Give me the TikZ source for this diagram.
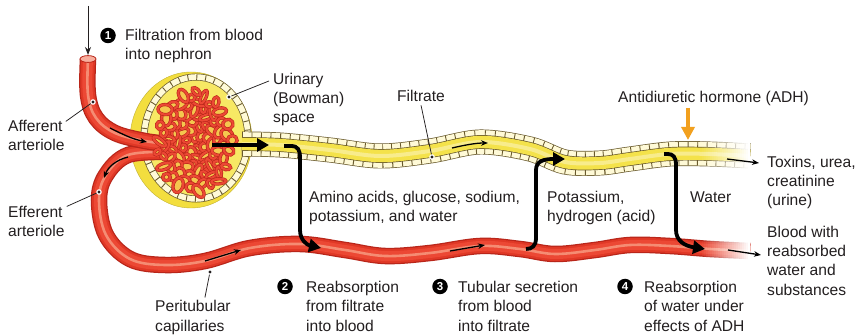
\documentclass[tikz,border=0pt]{standalone}
\usepackage{fontspec}
\setmainfont{Liberation Sans}
\usetikzlibrary{arrows.meta}

\definecolor{ink}{RGB}{35,31,32}
\definecolor{redDark}{RGB}{185,38,26}
\definecolor{redMid}{RGB}{224,56,38}
\definecolor{redMain}{RGB}{236,72,52}
\definecolor{redLight}{RGB}{245,140,115}
\definecolor{holeCol}{RGB}{245,198,78}
\definecolor{capYellow}{RGB}{243,222,62}
\definecolor{capInner}{RGB}{247,232,100}
\definecolor{lumen}{RGB}{244,226,74}
\definecolor{lumenPale}{RGB}{248,236,140}
\definecolor{cellFill}{RGB}{255,250,215}
\definecolor{cellLine}{RGB}{105,90,45}
\definecolor{adhOrange}{RGB}{242,160,30}

\begin{document}
\begin{tikzpicture}[x=1pt,y=-1pt,
  lbl/.style={font=\fontsize{15.6}{19.5}\selectfont, text=ink, anchor=base west, inner sep=0pt},
  numdot/.style={circle, fill=black, inner sep=0pt, minimum size=15.5pt, text=white,
    font=\bfseries\fontsize{11.5}{12}\selectfont},
  ptr/.style={draw=ink, line width=0.75pt},
  flowarrow/.style={draw=black, line width=1.3pt, -{Stealth[length=7pt,width=5.5pt]}},
  transfer/.style={draw=black, line width=3.8pt, -{Triangle[length=12pt,width=13pt]}},
  vessel/.style={draw=redDark, line width=16.5pt,
    postaction={draw=redMid, line width=14pt},
    postaction={draw=redMain, line width=10pt},
    postaction={draw=redLight, line width=2.6pt}},
  tubule/.style={draw=cellLine, line width=25pt,
    postaction={draw=cellFill, line width=23.6pt},
    postaction={draw=cellLine, line width=23.6pt, dash pattern=on 0.9pt off 8.5pt},
    postaction={draw=cellLine, line width=13.8pt},
    postaction={draw=lumen, line width=12.4pt},
    postaction={draw=lumenPale, line width=4pt}},
  cellring/.style={draw=cellLine, line width=7pt,
    postaction={draw=cellFill, line width=5.6pt},
    postaction={draw=cellLine, line width=5.6pt, dash pattern=on 0.9pt off 8pt}},
  gloop/.style={fill=holeCol, draw=redDark, line width=3.3pt,
    postaction={draw=redMain, line width=2.1pt}},
  dotmark/.style={fill=ink}
]
\fill[white] (0,0) rectangle (861,336);
\useasboundingbox (0,0) rectangle (861,336);

% ---------- Bowman's capsule ----------
\fill[capYellow, draw=capYellow!80!black, line width=0.4pt] (191,140) ellipse [x radius=61, y radius=68];
\fill[capInner] (196,138) ellipse [x radius=52, y radius=61];
\draw[cellring] (196,138) ellipse [x radius=52, y radius=61];

% ---------- renal tubule carrying filtrate ----------
\draw[tubule] plot[smooth, tension=0.55] coordinates {(242,144) (280,145) (330,150) (380,156) (430,151) (480,142) (530,149) (565,162) (600,163) (630,159) (670,154) (710,154) (750,156)};

% ---------- blood vessels ----------
\draw[vessel] plot[smooth, tension=0.6] coordinates {(168,152) (128,155) (106,175) (99,200) (106,235) (130,259) (165,265) (205,261) (250,248) (300,244) (345,250) (385,256) (430,253) (480,246) (520,249) (555,254) (595,250) (630,245) (670,246) (710,249) (750,251)};
\draw[vessel] plot[smooth, tension=0.6] coordinates {(88,59) (88,95) (96,118) (115,133) (145,141) (170,144)};
\fill[redLight!70!white, draw=redDark, line width=0.8pt] (88,59) ellipse [x radius=8, y radius=3.4];

% ---------- glomerulus capillary tuft ----------
\fill[redMain] (192,142) ellipse [x radius=30, y radius=40];
\foreach \i in {1,...,92}{
  \pgfmathsetmacro\rr{sqrt((\i-0.5)/92)}
  \pgfmathsetmacro\aa{\i*137.508}
  \pgfmathsetmacro\lx{194+39*\rr*cos(\aa)}
  \pgfmathsetmacro\ly{142+51*\rr*sin(\aa)}
  \pgfmathsetmacro\la{5.6+2.0*sin(\i*71)}
  \pgfmathsetmacro\lb{3.8+1.3*cos(\i*53)}
  \pgfmathsetmacro\lr{mod(\i*47,180)}
  \draw[gloop, rotate around={\lr:(\lx,\ly)}] (\lx,\ly) ellipse [x radius=\la, y radius=\lb];
}

% ---------- fading ends of tubule and capillary ----------
\foreach \k in {0,...,24}{
  \fill[white, opacity={\k/24}] ({700+2*\k},125) rectangle ({702.3+2*\k},185);
  \fill[white, opacity={\k/24}] ({700+2*\k},228) rectangle ({702.3+2*\k},272);
}

% ---------- coordinates along the flows ----------
\coordinate (inTop) at (88,6);
\coordinate (inEnd) at (88,55);
\coordinate (affA) at (110,128);
\coordinate (affB) at (147,142);
\coordinate (effA) at (128,157);
\coordinate (effB) at (104,178);
\coordinate (periA) at (205,261);
\coordinate (periB) at (241,250);
\coordinate (bloodA) at (450,251);
\coordinate (bloodB) at (485,245);
\coordinate (filtA) at (452,148);
\coordinate (filtB) at (488,143);
\coordinate (toxA) at (727,159);
\coordinate (toxB) at (759,163);
\coordinate (outA) at (728,250);
\coordinate (outB) at (761,255);
\coordinate (glomOut) at (212,145);
\coordinate (tubIn) at (269,145);
\coordinate (adhA) at (688,108);
\coordinate (adhB) at (688,140);

% ---------- flow arrows ----------
\draw[draw=ink, line width=1pt, -{Stealth[length=8pt,width=6pt]}] (inTop) -- (inEnd);
\draw[flowarrow] (affA) .. controls (122,134) and (132,139) .. (affB);
\draw[flowarrow] (effA) .. controls (116,160) and (108,167) .. (effB);
\draw[flowarrow] (periA) -- (periB);
\draw[flowarrow] (bloodA) -- (bloodB);
\draw[flowarrow] (filtA) .. controls (465,145) and (476,143) .. (filtB);
\draw[flowarrow] (toxA) -- (toxB);
\draw[flowarrow] (outA) -- (outB);
\draw[draw=adhOrange, line width=4.5pt, -{Triangle[length=13pt,width=13pt]}] (adhA) -- (adhB);

% ---------- exchange arrows ----------
\draw[transfer] (glomOut) -- (tubIn);
\draw[transfer] (284,146) -- (291,146) .. controls (298,146) and (300,150) .. (300,158)
  -- (300,230) .. controls (300,240) and (307,245) .. (321,248);
\draw[transfer] (526,249) .. controls (532,249) and (536,246) .. (536,238)
  -- (536,170) .. controls (536,161) and (544,159) .. (565,159);
\draw[transfer] (664,154) -- (668,154) .. controls (673,154) and (676,157) .. (676,165)
  -- (676,230) .. controls (676,241) and (685,246) .. (705,249);

% ---------- labels ----------
\node[numdot] (n1) at (108,35.5) {1};
\node[lbl] (lFilt1) at (125,41) {Filtration from blood};
\node[lbl] (lFilt2) at (125,60) {into nephron};

\node[lbl] (lUrin1) at (273,85) {Urinary};
\node[lbl] (lUrin2) at (273,104) {(Bowman)};
\node[lbl] (lUrin3) at (273,123) {space};

\node[lbl] (lFiltrate) at (397,102) {Filtrate};
\node[lbl] (lADH) at (618,103) {Antidiuretic hormone (ADH)};

\node[lbl] (lAff1) at (8,132) {Afferent};
\node[lbl] (lAff2) at (8,151) {arteriole};
\node[lbl] (lEff1) at (8,218) {Efferent};
\node[lbl] (lEff2) at (8,237) {arteriole};

\node[lbl] (lTox1) at (767,168) {Toxins, urea,};
\node[lbl] (lTox2) at (767,187) {creatinine};
\node[lbl] (lTox3) at (767,206) {(urine)};

\node[lbl] (lAmino1) at (309,203) {Amino acids, glucose, sodium,};
\node[lbl] (lAmino2) at (309,222) {potassium, and water};
\node[lbl] (lPot1) at (547,203) {Potassium,};
\node[lbl] (lPot2) at (547,222) {hydrogen (acid)};
\node[lbl] (lWater) at (690,203) {Water};

\node[lbl] (lBlood1) at (767,238) {Blood with};
\node[lbl] (lBlood2) at (767,257) {reabsorbed};
\node[lbl] (lBlood3) at (767,276) {water and};
\node[lbl] (lBlood4) at (767,295) {substances};

\node[lbl] (lPeri1) at (155,312) {Peritubular};
\node[lbl] (lPeri2) at (155,331) {capillaries};

\node[numdot] (n2) at (285,286.5) {2};
\node[lbl] (lRe1) at (306,292) {Reabsorption};
\node[lbl] (lRe2) at (306,312) {from filtrate};
\node[lbl] (lRe3) at (306,331) {into blood};

\node[numdot] (n3) at (440,286.5) {3};
\node[lbl] (lSec1) at (458,292) {Tubular secretion};
\node[lbl] (lSec2) at (458,312) {from blood};
\node[lbl] (lSec3) at (458,331) {into filtrate};

\node[numdot] (n4) at (625,286.5) {4};
\node[lbl] (lWat1) at (644,292) {Reabsorption};
\node[lbl] (lWat2) at (644,312) {of water under};
\node[lbl] (lWat3) at (644,331) {effects of ADH};

% ---------- leader lines ----------
\coordinate (dUrin) at (229,97);
\coordinate (dAff) at (93,102);
\coordinate (dEff) at (99,192);
\coordinate (dFiltrate) at (432,157);
\coordinate (dPeri) at (210,272);
\draw[ptr] (dUrin) -- ([xshift=-4pt]lUrin1.west);
\draw[ptr] (dAff) -- ([xshift=3pt,yshift=5pt]lAff1.east);
\draw[ptr] (dEff) -- ([xshift=4pt,yshift=6pt]lEff1.east);
\draw[ptr] (dFiltrate) -- ([yshift=-3pt]lFiltrate.south);
\draw[ptr] (dPeri) -- ([xshift=12pt,yshift=3pt]lPeri1.north);
\foreach \d in {dUrin,dAff,dEff,dFiltrate,dPeri}{
  \fill[white] (\d) circle (2.8);
  \fill[dotmark] (\d) circle (1.7);
}
\end{tikzpicture}
\end{document}
